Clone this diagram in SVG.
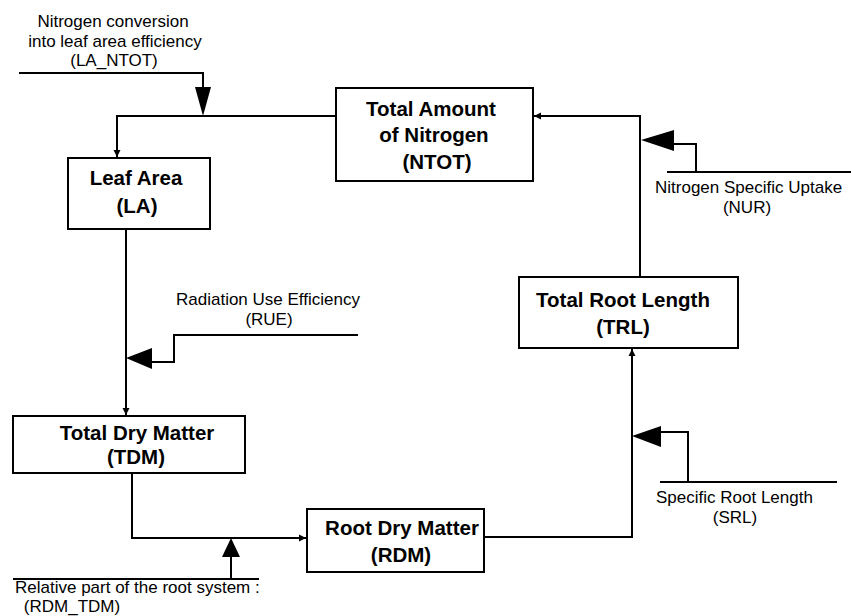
<svg xmlns="http://www.w3.org/2000/svg" width="851" height="616" viewBox="0 0 851 616">
  <defs>
    <style>
      .box { fill: #ffffff; stroke: #000000; stroke-width: 2; }
      .title { font-family: "Liberation Sans", Arial, sans-serif; font-size: 20.5px; font-weight: bold; fill: #000000; text-anchor: middle; }
      .label { font-family: "Liberation Sans", Arial, sans-serif; font-size: 17px; fill: #000000; }
      .mid { text-anchor: middle; }
      .wire { fill: none; stroke: #000000; stroke-width: 2; }
      .head { fill: #000000; stroke: none; }
    </style>
    <marker id="arr" markerUnits="userSpaceOnUse" markerWidth="8" markerHeight="8" refX="7" refY="4" orient="auto">
      <path d="M0,0.5 L7,4 L0,7.5 z" fill="#000000"/>
    </marker>
  </defs>
  <rect width="851" height="616" fill="#ffffff"/>

  <g id="connectors">
    <!-- LA_NTOT influence -->
    <polyline class="wire" points="19,73 203,73 203,100"/>
    <polygon class="head" points="195,87 211,87 203,116"/>
    <!-- NTOT -> LA -->
    <polyline class="wire" points="336,116 117,116 117,157" marker-end="url(#arr)"/>
    <!-- TRL -> NTOT -->
    <polyline class="wire" points="640,277 640,116 534,116" marker-end="url(#arr)"/>
    <!-- NUR influence -->
    <line class="wire" x1="667" y1="172" x2="851" y2="172"/>
    <polyline class="wire" points="696,172 696,144 670,144"/>
    <polygon class="head" points="641,140 674,130 674,151"/>
    <!-- LA -> TDM -->
    <line class="wire" x1="126" y1="229" x2="126" y2="415" marker-end="url(#arr)"/>
    <!-- RUE influence -->
    <polyline class="wire" points="358,335 174,335 174,362 148,362"/>
    <polygon class="head" points="126,358 152,348 152,369"/>
    <!-- TDM -> RDM -->
    <polyline class="wire" points="132,473 132,538 306,538" marker-end="url(#arr)"/>
    <!-- RDM_TDM influence -->
    <line class="wire" x1="13" y1="579" x2="259" y2="579"/>
    <line class="wire" x1="231" y1="579" x2="231" y2="553"/>
    <polygon class="head" points="231,538 222,557 240,557"/>
    <!-- RDM -> TRL -->
    <polyline class="wire" points="484,537 632,537 632,349" marker-end="url(#arr)"/>
    <!-- SRL influence -->
    <line class="wire" x1="660" y1="482" x2="837" y2="482"/>
    <polyline class="wire" points="688,482 688,432 657,432"/>
    <polygon class="head" points="632,436 661,426 661,447"/>
  </g>

  <g id="ntot">
    <rect class="box" x="336" y="88" width="197" height="93"/>
    <text class="title" x="431" y="116">Total Amount</text>
    <text class="title" x="434" y="142">of Nitrogen</text>
    <text class="title" x="437" y="169">(NTOT)</text>
  </g>

  <g id="la">
    <rect class="box" x="68" y="158" width="142" height="71"/>
    <text class="title" x="136" y="185">Leaf Area</text>
    <text class="title" x="137" y="213">(LA)</text>
  </g>

  <g id="tdm">
    <rect class="box" x="13" y="416" width="232" height="57"/>
    <text class="title" x="137" y="440">Total Dry Matter</text>
    <text class="title" x="136" y="464">(TDM)</text>
  </g>

  <g id="rdm">
    <rect class="box" x="307" y="509" width="177" height="63"/>
    <text class="title" x="402" y="535">Root Dry Matter</text>
    <text class="title" x="401" y="562">(RDM)</text>
  </g>

  <g id="trl">
    <rect class="box" x="519" y="277" width="219" height="71"/>
    <text class="title" x="623" y="307">Total Root Length</text>
    <text class="title" x="623" y="334">(TRL)</text>
  </g>

  <g id="la_ntot">
    <text class="label mid" x="113" y="27">Nitrogen conversion</text>
    <text class="label mid" x="115" y="47">into leaf area efficiency</text>
    <text class="label mid" x="114" y="66">(LA_NTOT)</text>
  </g>

  <g id="nur">
    <text class="label" x="655" y="193">Nitrogen Specific Uptake</text>
    <text class="label mid" x="747" y="213">(NUR)</text>
  </g>

  <g id="rue">
    <text class="label" x="176" y="305">Radiation Use Efficiency</text>
    <text class="label mid" x="269" y="325">(RUE)</text>
  </g>

  <g id="srl">
    <text class="label" x="656" y="503">Specific Root Length</text>
    <text class="label mid" x="735" y="523">(SRL)</text>
  </g>

  <g id="rdm_tdm">
    <text class="label" x="15" y="593">Relative part of the root system :</text>
    <text class="label mid" x="72" y="612">(RDM_TDM)</text>
  </g>
</svg>
